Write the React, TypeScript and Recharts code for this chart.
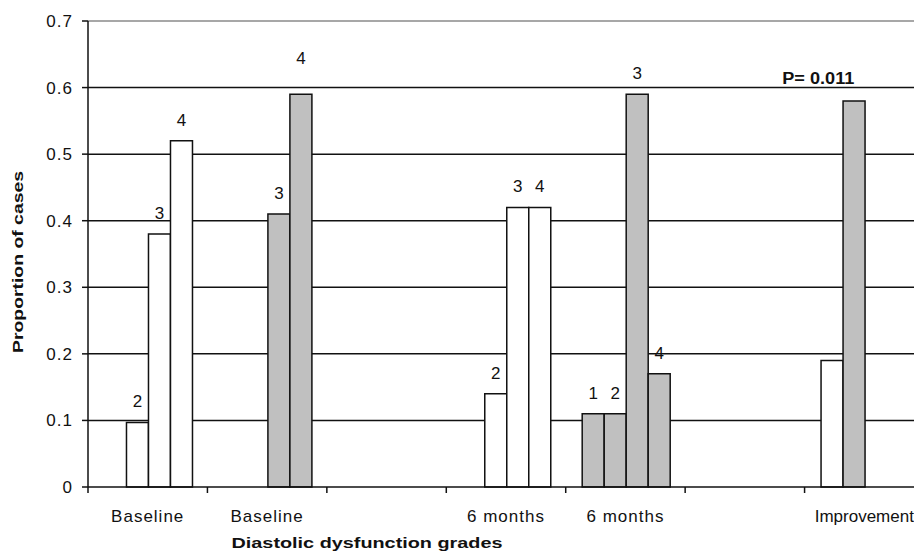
import {
  BarChart,
  Bar,
  XAxis,
  YAxis,
  CartesianGrid,
  ReferenceLine,
  ReferenceDot,
  LabelList,
  Cell,
} from "recharts";

// categories along the x axis (two blank groups act as spacers)
const CATEGORIES = ["Baseline", "Baseline", "", "6 months", "6 months", "", "Improvement"];

// proportion of cases per diastolic dysfunction grade, per category
const GRADE_1 = [null, null, null, null, 0.11, null, 0.19];
const GRADE_2 = [0.097, null, null, 0.14, 0.11, null, 0.58];
const GRADE_3 = [0.38, 0.41, null, 0.42, 0.59, null, null];
const GRADE_4 = [0.52, 0.59, null, 0.42, 0.17, null, null];

// which grades are drawn grey in each category
const SHADED = [[], [3, 4], [], [], [1, 2, 3, 4], [], [2]];
// categories whose bars carry their grade number
const LABELLED = [true, true, false, true, true, false, false];
// grade labels that sit higher up, above the 0.6 line ([category, grade])
const RAISED: [number, number][] = [[1, 4]];

const Y_TICKS = [0, 0.1, 0.2, 0.3, 0.4, 0.5, 0.6, 0.7];
const GRADES = [1, 2, 3, 4];
const P_VALUE = "P= 0.011";

const FONT = "'Liberation Sans', Arial, Helvetica, sans-serif";
const INK = "#111";
const GREY = "#c0c0c0";

const VALUES = [GRADE_1, GRADE_2, GRADE_3, GRADE_4];

const data = CATEGORIES.map((name, i) => {
  const row: any = { key: `c${i}`, name };
  GRADES.forEach((g, k) => {
    const v = VALUES[k][i];
    const raised = RAISED.some(([c, gr]) => c === i && gr === g);
    row[`g${g}`] = v;
    row[`l${g}`] = v != null && LABELLED[i] && !raised ? String(g) : null;
    row[`r${g}`] = v != null && LABELLED[i] && raised ? String(g) : null;
  });
  return row;
});

function CategoryTick({ x, y, payload, index }: any) {
  const half = payload?.offset || 59.7;
  const last = index === CATEGORIES.length - 1;
  return (
    <g>
      <line x1={x - half} x2={x - half} y1={y} y2={y + 6} stroke={INK} strokeWidth={1.5} />
      <text
        x={x}
        y={y + 35}
        textAnchor="middle"
        fontSize={17}
        letterSpacing={last ? 0 : 1}
        fontFamily={FONT}
        fill={INK}
      >
        {CATEGORIES[index]}
      </text>
    </g>
  );
}

function gradeLabel(lift: number) {
  return (props: any) => {
    const { x, y, width, value } = props;
    if (value == null || value === "") return null;
    return (
      <text
        x={x + width / 2}
        y={y - lift}
        textAnchor="middle"
        fontSize={17}
        fontFamily={FONT}
        fill={INK}
      >
        {value}
      </text>
    );
  };
}

export default function App() {
  return (
    <div style={{ width: 914, height: 556, overflow: "hidden", background: "#fff" }}>
      <style>{"body{margin:0}"}</style>
      <BarChart
        width={940}
        height={556}
        data={data}
        margin={{ top: 21, right: 16, left: 28, bottom: 29 }}
        barGap={0}
        barCategoryGap="13.8%"
      >
        <CartesianGrid
          vertical={false}
          horizontalValues={[0.1, 0.2, 0.3, 0.4, 0.5, 0.6]}
          stroke={INK}
          strokeWidth={1.5}
        />
        <ReferenceLine y={0.7} stroke="#8a8a8a" strokeWidth={1.5} />
        <XAxis
          dataKey="key"
          type="category"
          height={40}
          axisLine={{ stroke: INK, strokeWidth: 1.5 }}
          tickLine={false}
          tickSize={0}
          tickMargin={0}
          interval={0}
          tick={<CategoryTick />}
          label={{
            content: ({ viewBox }: any) => (
              <text
                x={viewBox.x + 279}
                y={viewBox.y + 61}
                textAnchor="middle"
                fontSize={15}
                fontWeight="bold"
                fontFamily={FONT}
                fill={INK}
                textLength={271}
                lengthAdjust="spacingAndGlyphs"
              >
                Diastolic dysfunction grades
              </text>
            ),
          }}
        />
        <YAxis
          domain={[0, 0.7]}
          ticks={Y_TICKS}
          width={60}
          interval={0}
          axisLine={{ stroke: INK, strokeWidth: 1.5 }}
          tickLine={{ stroke: INK, strokeWidth: 1.5 }}
          tickSize={6}
          tickMargin={9}
          tick={{ fill: INK, fontSize: 17, fontFamily: FONT, letterSpacing: 1 }}
          tickFormatter={(v) => String(v)}
          label={{
            content: ({ viewBox }: any) => {
              const cx = viewBox.x - 5;
              const cy = viewBox.y + viewBox.height / 2 + 8;
              return (
                <text
                  x={cx}
                  y={cy}
                  transform={`rotate(-90, ${cx}, ${cy})`}
                  textAnchor="middle"
                  fontSize={14}
                  fontWeight="bold"
                  fontFamily={FONT}
                  fill={INK}
                  textLength={182}
                  lengthAdjust="spacingAndGlyphs"
                >
                  Proportion of cases
                </text>
              );
            },
          }}
        />
        {GRADES.map((g) => (
          <Bar
            key={g}
            dataKey={`g${g}`}
            stroke={INK}
            strokeWidth={1.5}
            isAnimationActive={false}
          >
            {data.map((d, i) => (
              <Cell key={d.key} fill={SHADED[i].includes(g) ? GREY : "#fff"} />
            ))}
            <LabelList dataKey={`l${g}`} content={gradeLabel(15)} />
            <LabelList dataKey={`r${g}`} content={gradeLabel(30)} />
          </Bar>
        ))}
        <ReferenceDot
          x="c6"
          y={GRADE_2[6] as number}
          r={0}
          fill="none"
          stroke="none"
          ifOverflow="visible"
          label={{
            content: ({ viewBox }: any) => (
              <text
                x={viewBox.x + (viewBox.width || 0) / 2 - 46}
                y={viewBox.y + (viewBox.height || 0) / 2 - 17}
                textAnchor="middle"
                fontSize={16}
                fontWeight="bold"
                fontFamily={FONT}
                fill={INK}
                textLength={72}
                lengthAdjust="spacingAndGlyphs"
              >
                {P_VALUE}
              </text>
            ),
          }}
        />
      </BarChart>
    </div>
  );
}
